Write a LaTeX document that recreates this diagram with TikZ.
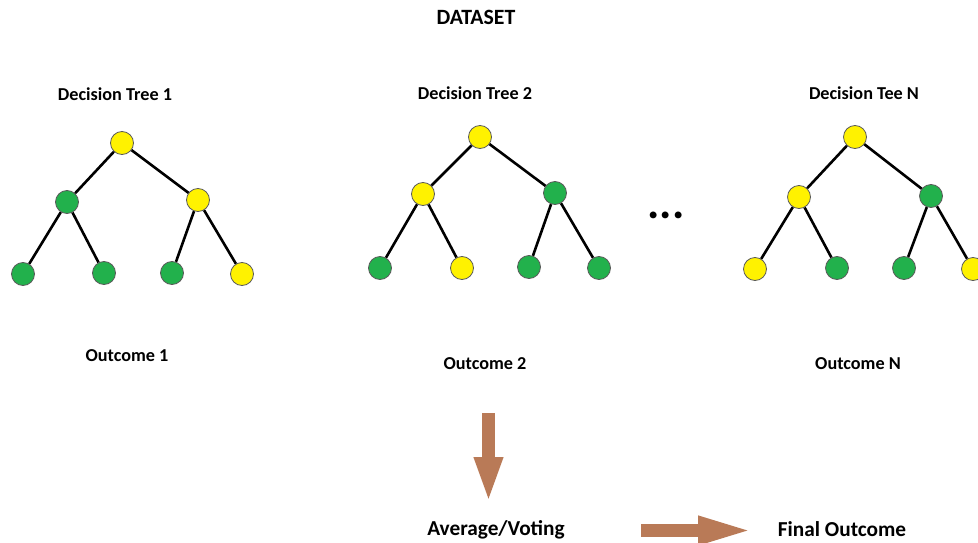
\documentclass[tikz,border=0pt]{standalone}
\usepackage{fontspec}
\setmainfont{Carlito}
\usetikzlibrary{arrows.meta}
\definecolor{leafyellow}{RGB}{255,242,0}
\definecolor{leafgreen}{RGB}{34,177,76}
\definecolor{arrowbrown}{RGB}{185,122,87}
\definecolor{rimgray}{RGB}{90,90,90}
\tikzset{
  tn/.style={circle, minimum size=23pt, inner sep=0pt, draw=rimgray, line width=0.8pt},
  yn/.style={tn, fill=leafyellow},
  gn/.style={tn, fill=leafgreen},
  branch/.style={line width=2.6pt, black},
  lbl/.style={font=\bfseries\fontsize{18.2}{22}\selectfont, inner sep=0pt},
  biglbl/.style={font=\bfseries\fontsize{21.3}{25}\selectfont, inner sep=0pt},
  bigarrow/.style={line width=13.5pt, arrowbrown},
}
\begin{document}
\begin{tikzpicture}[x=1pt, y=-1pt]
\useasboundingbox (0,0) rectangle (978,543);

% titles
\node[font=\bfseries\fontsize{21.8}{26}\selectfont, inner sep=0pt] (dataset) at (476,17) {DATASET};
\node[lbl] (t1) at (115,94) {Decision Tree 1};
\node[lbl] (t2) at (475,93) {Decision Tree 2};
\node[lbl] (t3) at (864,93) {Decision Tee N};

% tree 1
\node[yn] (a0) at (122,143) {};
\node[gn] (a1) at (67,202) {};
\node[yn] (a2) at (198,200) {};
\node[gn] (a3) at (23,274) {};
\node[gn] (a4) at (104,273) {};
\node[gn] (a5) at (172,273) {};
\node[yn] (a6) at (242,274) {};
\draw[branch] (a0) -- (a1);
\draw[branch] (a0) -- (a2);
\draw[branch] (a1) -- (a3);
\draw[branch] (a1) -- (a4);
\draw[branch] (a2) -- (a5);
\draw[branch] (a2) -- (a6);

% tree 2
\node[yn] (b0) at (480,137) {};
\node[yn] (b1) at (423,194) {};
\node[gn] (b2) at (555,193) {};
\node[gn] (b3) at (380,268) {};
\node[yn] (b4) at (462,268) {};
\node[gn] (b5) at (529,267) {};
\node[gn] (b6) at (599,268) {};
\draw[branch] (b0) -- (b1);
\draw[branch] (b0) -- (b2);
\draw[branch] (b1) -- (b3);
\draw[branch] (b1) -- (b4);
\draw[branch] (b2) -- (b5);
\draw[branch] (b2) -- (b6);

% ellipsis between the trees
\node[font=\bfseries\fontsize{46}{46}\selectfont, inner sep=0pt] (dots) at (666,215) {...};

% tree N
\node[yn] (c0) at (855,137) {};
\node[yn] (c1) at (799,197) {};
\node[gn] (c2) at (931,196) {};
\node[yn] (c3) at (755,269) {};
\node[gn] (c4) at (837,268) {};
\node[gn] (c5) at (904,268) {};
\node[yn] (c6) at (973,269) {};
\draw[branch] (c0) -- (c1);
\draw[branch] (c0) -- (c2);
\draw[branch] (c1) -- (c3);
\draw[branch] (c1) -- (c4);
\draw[branch] (c2) -- (c5);
\draw[branch] (c2) -- (c6);

% outcomes
\node[lbl] (o1) at (127,356) {Outcome 1};
\node[lbl] (o2) at (485,364) {Outcome 2};
\node[lbl] (o3) at (858,364) {Outcome N};

% aggregation
\node[biglbl] (avg) at (496,530) {Average/Voting};
\node[biglbl] (final) at (842,529) {Final Outcome};

\coordinate (downstart) at (488.5,413);
\coordinate (downend) at (488.5,503);
\coordinate (rightstart) at (641,530.5);
\coordinate (rightend) at (757,530.5);
\draw[bigarrow, -{Triangle[length=46pt, width=26pt]}] (downstart) -- (downend);
\draw[bigarrow, -{Triangle[length=59pt, width=25pt]}] (rightstart) -- (rightend);
\end{tikzpicture}
\end{document}
